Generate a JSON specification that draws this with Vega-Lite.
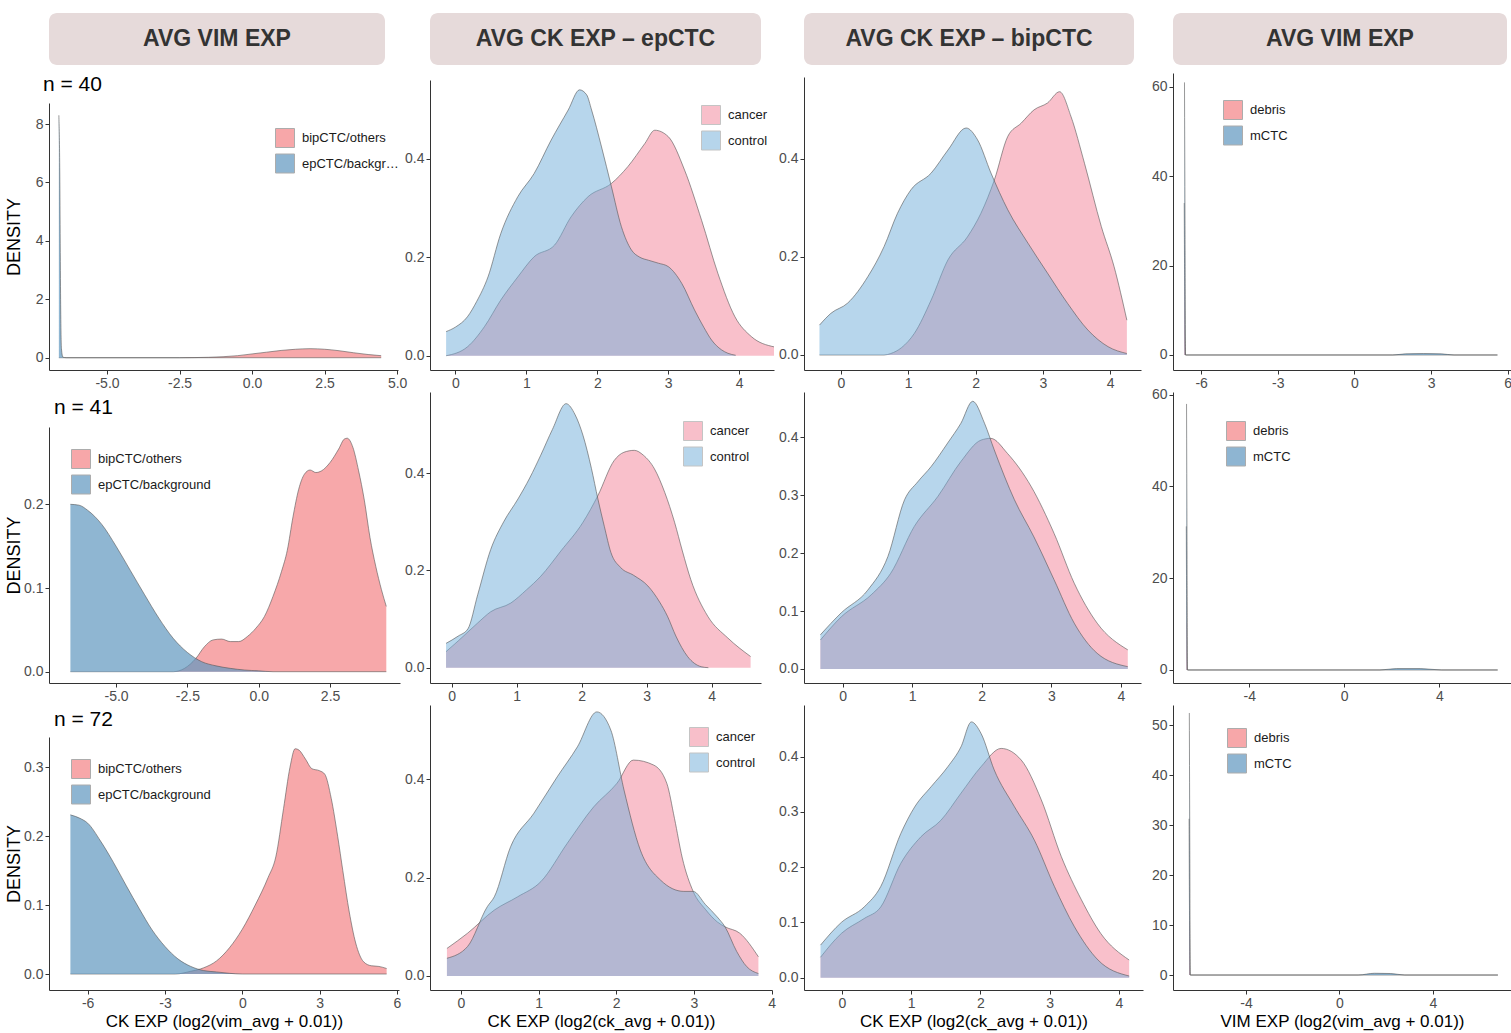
{
"$schema": "https://vega.github.io/schema/vega-lite/v6.json",
"background": "white",
"padding": {"left": 5, "top": 13, "right": 0, "bottom": 6},
"columns": 4,
"spacing": {"row": 22, "column": 30},
"bounds": "flush",
"align": "each",
"resolve": {"scale": {"x": "independent", "y": "independent", "color": "independent"}, "legend": {"color": "independent"}},
"config": {
 "view": {"stroke": null},
 "text": {"font": "Liberation Sans"},
 "area": {"interpolate": "monotone"},
 "line": {"interpolate": "monotone"},
 "title": {"font": "Liberation Sans", "fontSize": 21, "fontWeight": "normal", "color": "#000000", "anchor": "start", "frame": "group"},
 "axis": {"grid": false, "domainColor": "#333333", "domainWidth": 1, "tickColor": "#333333", "tickSize": 4, "labelColor": "#4d4d4d", "labelFontSize": 14, "labelFont": "Liberation Sans", "labelPadding": 2, "labelFlush": false, "labelOverlap": false, "labelBound": false, "titleFont": "Liberation Sans", "titleFontSize": 17, "titleFontWeight": "normal", "titleColor": "#000000", "titlePadding": 3},
 "legend": {"labelFont": "Liberation Sans", "labelFontSize": 13, "labelColor": "#1a1a1a", "symbolType": "square", "symbolSize": 361, "rowPadding": 1.5, "labelOffset": 7, "padding": 0, "symbolStrokeWidth": 1, "symbolStrokeColor": "#8a8a8a"}
},
"datasets": {
 "p11": [
  {"g":"epCTC/background","x":-6.66,"y":8.3},{"g":"epCTC/background","x":-6.63,"y":6.5},{"g":"epCTC/background","x":-6.6,"y":2.0},{"g":"epCTC/background","x":-6.57,"y":0.3},{"g":"epCTC/background","x":-6.52,"y":0.02},{"g":"epCTC/background","x":-6.4,"y":0},{"g":"epCTC/background","x":4.45,"y":0},
  {"g":"bipCTC/others","x":-6.66,"y":0},{"g":"bipCTC/others","x":-2.5,"y":0},{"g":"bipCTC/others","x":-2.0,"y":0.005},{"g":"bipCTC/others","x":-1.5,"y":0.015},{"g":"bipCTC/others","x":-1.0,"y":0.035},{"g":"bipCTC/others","x":-0.5,"y":0.07},{"g":"bipCTC/others","x":0,"y":0.13},{"g":"bipCTC/others","x":0.5,"y":0.19},{"g":"bipCTC/others","x":1.0,"y":0.25},{"g":"bipCTC/others","x":1.5,"y":0.29},{"g":"bipCTC/others","x":2.0,"y":0.31},{"g":"bipCTC/others","x":2.5,"y":0.29},{"g":"bipCTC/others","x":3.0,"y":0.24},{"g":"bipCTC/others","x":3.5,"y":0.17},{"g":"bipCTC/others","x":4.0,"y":0.11},{"g":"bipCTC/others","x":4.45,"y":0.07}
 ],
 "p21": [
  {"g":"epCTC/background","x":-6.6,"y":0.2},{"g":"epCTC/background","x":-6.3,"y":0.199},{"g":"epCTC/background","x":-6.0,"y":0.193},{"g":"epCTC/background","x":-5.5,"y":0.176},{"g":"epCTC/background","x":-5.0,"y":0.15},{"g":"epCTC/background","x":-4.5,"y":0.121},{"g":"epCTC/background","x":-4.0,"y":0.092},{"g":"epCTC/background","x":-3.5,"y":0.064},{"g":"epCTC/background","x":-3.0,"y":0.04},{"g":"epCTC/background","x":-2.5,"y":0.023},{"g":"epCTC/background","x":-2.0,"y":0.012},{"g":"epCTC/background","x":-1.5,"y":0.007},{"g":"epCTC/background","x":-1.0,"y":0.004},{"g":"epCTC/background","x":-0.5,"y":0.002},{"g":"epCTC/background","x":0,"y":0.001},{"g":"epCTC/background","x":0.5,"y":0},{"g":"epCTC/background","x":4.47,"y":0},
  {"g":"bipCTC/others","x":-6.6,"y":0},{"g":"bipCTC/others","x":-3.0,"y":0},{"g":"bipCTC/others","x":-2.6,"y":0.004},{"g":"bipCTC/others","x":-2.2,"y":0.016},{"g":"bipCTC/others","x":-1.9,"y":0.03},{"g":"bipCTC/others","x":-1.6,"y":0.038},{"g":"bipCTC/others","x":-1.3,"y":0.039},{"g":"bipCTC/others","x":-1.0,"y":0.036},{"g":"bipCTC/others","x":-0.7,"y":0.036},{"g":"bipCTC/others","x":-0.4,"y":0.042},{"g":"bipCTC/others","x":-0.1,"y":0.052},{"g":"bipCTC/others","x":0.2,"y":0.066},{"g":"bipCTC/others","x":0.5,"y":0.09},{"g":"bipCTC/others","x":0.8,"y":0.12},{"g":"bipCTC/others","x":1.0,"y":0.145},{"g":"bipCTC/others","x":1.2,"y":0.185},{"g":"bipCTC/others","x":1.4,"y":0.218},{"g":"bipCTC/others","x":1.6,"y":0.236},{"g":"bipCTC/others","x":1.8,"y":0.241},{"g":"bipCTC/others","x":2.0,"y":0.238},{"g":"bipCTC/others","x":2.2,"y":0.24},{"g":"bipCTC/others","x":2.5,"y":0.25},{"g":"bipCTC/others","x":2.8,"y":0.266},{"g":"bipCTC/others","x":3.0,"y":0.278},{"g":"bipCTC/others","x":3.1,"y":0.279},{"g":"bipCTC/others","x":3.3,"y":0.268},{"g":"bipCTC/others","x":3.5,"y":0.24},{"g":"bipCTC/others","x":3.7,"y":0.205},{"g":"bipCTC/others","x":3.9,"y":0.16},{"g":"bipCTC/others","x":4.1,"y":0.126},{"g":"bipCTC/others","x":4.3,"y":0.098},{"g":"bipCTC/others","x":4.47,"y":0.078}
 ],
 "p31": [
  {"g":"epCTC/background","x":-6.67,"y":0.231},{"g":"epCTC/background","x":-6.3,"y":0.226},{"g":"epCTC/background","x":-6.0,"y":0.219},{"g":"epCTC/background","x":-5.5,"y":0.193},{"g":"epCTC/background","x":-5.0,"y":0.162},{"g":"epCTC/background","x":-4.5,"y":0.128},{"g":"epCTC/background","x":-4.0,"y":0.095},{"g":"epCTC/background","x":-3.5,"y":0.064},{"g":"epCTC/background","x":-3.0,"y":0.04},{"g":"epCTC/background","x":-2.5,"y":0.022},{"g":"epCTC/background","x":-2.0,"y":0.011},{"g":"epCTC/background","x":-1.5,"y":0.005},{"g":"epCTC/background","x":-1.0,"y":0.003},{"g":"epCTC/background","x":-0.5,"y":0.001},{"g":"epCTC/background","x":0,"y":0},{"g":"epCTC/background","x":5.6,"y":0},
  {"g":"bipCTC/others","x":-6.67,"y":0},{"g":"bipCTC/others","x":-2.6,"y":0},{"g":"bipCTC/others","x":-2.0,"y":0.004},{"g":"bipCTC/others","x":-1.5,"y":0.009},{"g":"bipCTC/others","x":-1.0,"y":0.019},{"g":"bipCTC/others","x":-0.5,"y":0.038},{"g":"bipCTC/others","x":0,"y":0.065},{"g":"bipCTC/others","x":0.5,"y":0.1},{"g":"bipCTC/others","x":1.0,"y":0.14},{"g":"bipCTC/others","x":1.3,"y":0.17},{"g":"bipCTC/others","x":1.6,"y":0.24},{"g":"bipCTC/others","x":1.85,"y":0.3},{"g":"bipCTC/others","x":2.05,"y":0.327},{"g":"bipCTC/others","x":2.2,"y":0.325},{"g":"bipCTC/others","x":2.45,"y":0.312},{"g":"bipCTC/others","x":2.7,"y":0.298},{"g":"bipCTC/others","x":3.0,"y":0.295},{"g":"bipCTC/others","x":3.2,"y":0.29},{"g":"bipCTC/others","x":3.45,"y":0.255},{"g":"bipCTC/others","x":3.7,"y":0.2},{"g":"bipCTC/others","x":3.9,"y":0.15},{"g":"bipCTC/others","x":4.15,"y":0.09},{"g":"bipCTC/others","x":4.4,"y":0.045},{"g":"bipCTC/others","x":4.7,"y":0.018},{"g":"bipCTC/others","x":5.0,"y":0.012},{"g":"bipCTC/others","x":5.3,"y":0.011},{"g":"bipCTC/others","x":5.6,"y":0.008}
 ],
 "p12": [
  {"g":"control","x":-0.13,"y":0.049},{"g":"control","x":0.0,"y":0.058},{"g":"control","x":0.17,"y":0.079},{"g":"control","x":0.3,"y":0.11},{"g":"control","x":0.46,"y":0.16},{"g":"control","x":0.64,"y":0.248},{"g":"control","x":0.88,"y":0.323},{"g":"control","x":1.11,"y":0.37},{"g":"control","x":1.35,"y":0.438},{"g":"control","x":1.59,"y":0.499},{"g":"control","x":1.75,"y":0.54},{"g":"control","x":1.85,"y":0.53},{"g":"control","x":1.92,"y":0.499},{"g":"control","x":2.06,"y":0.424},{"g":"control","x":2.2,"y":0.343},{"g":"control","x":2.34,"y":0.262},{"g":"control","x":2.48,"y":0.215},{"g":"control","x":2.6,"y":0.2},{"g":"control","x":2.72,"y":0.194},{"g":"control","x":2.86,"y":0.188},{"g":"control","x":3.0,"y":0.181},{"g":"control","x":3.19,"y":0.147},{"g":"control","x":3.37,"y":0.093},{"g":"control","x":3.5,"y":0.058},{"g":"control","x":3.61,"y":0.032},{"g":"control","x":3.75,"y":0.012},{"g":"control","x":3.84,"y":0.005},{"g":"control","x":3.95,"y":0.001},
  {"g":"cancer","x":-0.13,"y":0},{"g":"cancer","x":0.17,"y":0.018},{"g":"cancer","x":0.41,"y":0.059},{"g":"cancer","x":0.64,"y":0.113},{"g":"cancer","x":0.88,"y":0.16},{"g":"cancer","x":1.11,"y":0.201},{"g":"cancer","x":1.4,"y":0.225},{"g":"cancer","x":1.63,"y":0.282},{"g":"cancer","x":1.87,"y":0.323},{"g":"cancer","x":2.2,"y":0.35},{"g":"cancer","x":2.43,"y":0.384},{"g":"cancer","x":2.67,"y":0.431},{"g":"cancer","x":2.81,"y":0.458},{"g":"cancer","x":3.0,"y":0.445},{"g":"cancer","x":3.23,"y":0.377},{"g":"cancer","x":3.47,"y":0.275},{"g":"cancer","x":3.7,"y":0.167},{"g":"cancer","x":3.94,"y":0.079},{"g":"cancer","x":4.17,"y":0.039},{"g":"cancer","x":4.49,"y":0.018}
 ],
 "p13": [
  {"g":"control","x":-0.32,"y":0.061},{"g":"control","x":-0.15,"y":0.085},{"g":"control","x":0.1,"y":0.106},{"g":"control","x":0.4,"y":0.16},{"g":"control","x":0.64,"y":0.221},{"g":"control","x":0.84,"y":0.289},{"g":"control","x":1.04,"y":0.337},{"g":"control","x":1.34,"y":0.371},{"g":"control","x":1.59,"y":0.418},{"g":"control","x":1.86,"y":0.463},{"g":"control","x":2.03,"y":0.439},{"g":"control","x":2.23,"y":0.371},{"g":"control","x":2.48,"y":0.296},{"g":"control","x":2.78,"y":0.228},{"g":"control","x":3.07,"y":0.167},{"g":"control","x":3.37,"y":0.105},{"g":"control","x":3.67,"y":0.051},{"g":"control","x":3.97,"y":0.017},{"g":"control","x":4.25,"y":0.003},
  {"g":"cancer","x":-0.32,"y":0},{"g":"cancer","x":0.64,"y":0},{"g":"cancer","x":0.74,"y":0.003},{"g":"cancer","x":0.9,"y":0.015},{"g":"cancer","x":1.09,"y":0.044},{"g":"cancer","x":1.34,"y":0.112},{"g":"cancer","x":1.59,"y":0.194},{"g":"cancer","x":1.88,"y":0.241},{"g":"cancer","x":2.08,"y":0.289},{"g":"cancer","x":2.28,"y":0.357},{"g":"cancer","x":2.48,"y":0.446},{"g":"cancer","x":2.68,"y":0.473},{"g":"cancer","x":2.87,"y":0.5},{"g":"cancer","x":3.07,"y":0.514},{"g":"cancer","x":3.25,"y":0.537},{"g":"cancer","x":3.42,"y":0.486},{"g":"cancer","x":3.62,"y":0.391},{"g":"cancer","x":3.87,"y":0.262},{"g":"cancer","x":4.06,"y":0.18},{"g":"cancer","x":4.25,"y":0.071}
 ],
 "p22": [
  {"g":"control","x":-0.087,"y":0.05},{"g":"control","x":0.1,"y":0.065},{"g":"control","x":0.25,"y":0.08},{"g":"control","x":0.4,"y":0.15},{"g":"control","x":0.6,"y":0.243},{"g":"control","x":0.8,"y":0.3},{"g":"control","x":1.02,"y":0.347},{"g":"control","x":1.2,"y":0.39},{"g":"control","x":1.37,"y":0.437},{"g":"control","x":1.55,"y":0.49},{"g":"control","x":1.76,"y":0.543},{"g":"control","x":1.9,"y":0.52},{"g":"control","x":2.02,"y":0.478},{"g":"control","x":2.15,"y":0.41},{"g":"control","x":2.25,"y":0.347},{"g":"control","x":2.35,"y":0.29},{"g":"control","x":2.45,"y":0.237},{"g":"control","x":2.6,"y":0.206},{"g":"control","x":2.8,"y":0.19},{"g":"control","x":3.02,"y":0.168},{"g":"control","x":3.2,"y":0.135},{"g":"control","x":3.32,"y":0.106},{"g":"control","x":3.45,"y":0.065},{"g":"control","x":3.63,"y":0.023},{"g":"control","x":3.84,"y":0.002},{"g":"control","x":3.95,"y":0},
  {"g":"cancer","x":-0.087,"y":0.033},{"g":"cancer","x":0.1,"y":0.055},{"g":"cancer","x":0.4,"y":0.092},{"g":"cancer","x":0.6,"y":0.115},{"g":"cancer","x":0.91,"y":0.133},{"g":"cancer","x":1.15,"y":0.16},{"g":"cancer","x":1.37,"y":0.188},{"g":"cancer","x":1.68,"y":0.24},{"g":"cancer","x":2.02,"y":0.299},{"g":"cancer","x":2.25,"y":0.354},{"g":"cancer","x":2.5,"y":0.426},{"g":"cancer","x":2.65,"y":0.443},{"g":"cancer","x":2.81,"y":0.447},{"g":"cancer","x":2.95,"y":0.437},{"g":"cancer","x":3.12,"y":0.409},{"g":"cancer","x":3.28,"y":0.36},{"g":"cancer","x":3.43,"y":0.299},{"g":"cancer","x":3.55,"y":0.24},{"g":"cancer","x":3.68,"y":0.181},{"g":"cancer","x":3.94,"y":0.106},{"g":"cancer","x":4.25,"y":0.061},{"g":"cancer","x":4.6,"y":0.023}
 ],
 "p23": [
  {"g":"control","x":-0.32,"y":0.059},{"g":"control","x":-0.02,"y":0.097},{"g":"control","x":0.36,"y":0.136},{"g":"control","x":0.65,"y":0.194},{"g":"control","x":0.89,"y":0.292},{"g":"control","x":1.08,"y":0.323},{"g":"control","x":1.27,"y":0.349},{"g":"control","x":1.51,"y":0.39},{"g":"control","x":1.7,"y":0.424},{"g":"control","x":1.87,"y":0.462},{"g":"control","x":2.04,"y":0.424},{"g":"control","x":2.18,"y":0.378},{"g":"control","x":2.47,"y":0.292},{"g":"control","x":2.75,"y":0.228},{"g":"control","x":3.04,"y":0.154},{"g":"control","x":3.33,"y":0.079},{"g":"control","x":3.66,"y":0.027},{"g":"control","x":4.1,"y":0.004},
  {"g":"cancer","x":-0.32,"y":0.05},{"g":"cancer","x":-0.02,"y":0.09},{"g":"cancer","x":0.41,"y":0.128},{"g":"cancer","x":0.69,"y":0.165},{"g":"cancer","x":1.03,"y":0.246},{"g":"cancer","x":1.37,"y":0.298},{"g":"cancer","x":1.7,"y":0.358},{"g":"cancer","x":1.99,"y":0.395},{"g":"cancer","x":2.13,"y":0.398},{"g":"cancer","x":2.37,"y":0.372},{"g":"cancer","x":2.71,"y":0.315},{"g":"cancer","x":3.04,"y":0.234},{"g":"cancer","x":3.33,"y":0.148},{"g":"cancer","x":3.66,"y":0.079},{"g":"cancer","x":4.1,"y":0.033}
 ],
 "p32": [
  {"g":"control","x":-0.18,"y":0.036},{"g":"control","x":0.086,"y":0.06},{"g":"control","x":0.34,"y":0.141},{"g":"control","x":0.43,"y":0.161},{"g":"control","x":0.64,"y":0.263},{"g":"control","x":0.94,"y":0.331},{"g":"control","x":1.24,"y":0.405},{"g":"control","x":1.5,"y":0.466},{"g":"control","x":1.75,"y":0.537},{"g":"control","x":1.93,"y":0.5},{"g":"control","x":2.1,"y":0.378},{"g":"control","x":2.31,"y":0.256},{"g":"control","x":2.57,"y":0.195},{"g":"control","x":2.87,"y":0.172},{"g":"control","x":2.99,"y":0.172},{"g":"control","x":3.15,"y":0.145},{"g":"control","x":3.3,"y":0.12},{"g":"control","x":3.4,"y":0.1},{"g":"control","x":3.55,"y":0.05},{"g":"control","x":3.68,"y":0.019},{"g":"control","x":3.83,"y":0.005},
  {"g":"cancer","x":-0.18,"y":0.056},{"g":"cancer","x":0.086,"y":0.087},{"g":"cancer","x":0.43,"y":0.134},{"g":"cancer","x":0.73,"y":0.161},{"g":"cancer","x":1.03,"y":0.192},{"g":"cancer","x":1.37,"y":0.27},{"g":"cancer","x":1.71,"y":0.344},{"g":"cancer","x":2.01,"y":0.392},{"g":"cancer","x":2.22,"y":0.439},{"g":"cancer","x":2.48,"y":0.429},{"g":"cancer","x":2.65,"y":0.392},{"g":"cancer","x":2.75,"y":0.32},{"g":"cancer","x":2.85,"y":0.24},{"g":"cancer","x":2.99,"y":0.172},{"g":"cancer","x":3.15,"y":0.135},{"g":"cancer","x":3.3,"y":0.11},{"g":"cancer","x":3.4,"y":0.1},{"g":"cancer","x":3.59,"y":0.087},{"g":"cancer","x":3.83,"y":0.039}
 ],
 "p33": [
  {"g":"control","x":-0.31,"y":0.059},{"g":"control","x":-0.01,"y":0.1},{"g":"control","x":0.32,"y":0.128},{"g":"control","x":0.56,"y":0.165},{"g":"control","x":0.85,"y":0.261},{"g":"control","x":1.05,"y":0.309},{"g":"control","x":1.29,"y":0.346},{"g":"control","x":1.53,"y":0.382},{"g":"control","x":1.72,"y":0.418},{"g":"control","x":1.87,"y":0.463},{"g":"control","x":2.01,"y":0.442},{"g":"control","x":2.2,"y":0.376},{"g":"control","x":2.49,"y":0.31},{"g":"control","x":2.78,"y":0.249},{"g":"control","x":3.07,"y":0.165},{"g":"control","x":3.36,"y":0.092},{"g":"control","x":3.7,"y":0.032},{"g":"control","x":4.15,"y":0.003},
  {"g":"cancer","x":-0.31,"y":0.037},{"g":"cancer","x":-0.01,"y":0.08},{"g":"cancer","x":0.32,"y":0.107},{"g":"cancer","x":0.56,"y":0.128},{"g":"cancer","x":0.85,"y":0.207},{"g":"cancer","x":1.14,"y":0.255},{"g":"cancer","x":1.43,"y":0.285},{"g":"cancer","x":1.72,"y":0.334},{"g":"cancer","x":2.01,"y":0.382},{"g":"cancer","x":2.3,"y":0.415},{"g":"cancer","x":2.59,"y":0.394},{"g":"cancer","x":2.88,"y":0.322},{"g":"cancer","x":3.17,"y":0.219},{"g":"cancer","x":3.46,"y":0.141},{"g":"cancer","x":3.74,"y":0.08},{"g":"cancer","x":4.15,"y":0.032}
 ],
 "p14": [
  {"g":"mCTC","x":-6.65,"y":61},{"g":"mCTC","x":-6.63,"y":30},{"g":"mCTC","x":-6.61,"y":0},{"g":"mCTC","x":1.5,"y":0},{"g":"mCTC","x":2.0,"y":0.25},{"g":"mCTC","x":2.7,"y":0.32},{"g":"mCTC","x":3.4,"y":0.25},{"g":"mCTC","x":3.9,"y":0},{"g":"mCTC","x":5.6,"y":0},
  {"g":"debris","x":-6.66,"y":34},{"g":"debris","x":-6.64,"y":12},{"g":"debris","x":-6.61,"y":0},{"g":"debris","x":5.6,"y":0}
 ],
 "p24": [
  {"g":"mCTC","x":-6.64,"y":58},{"g":"mCTC","x":-6.62,"y":28},{"g":"mCTC","x":-6.6,"y":0},{"g":"mCTC","x":1.5,"y":0},{"g":"mCTC","x":2.2,"y":0.3},{"g":"mCTC","x":3.2,"y":0.3},{"g":"mCTC","x":4.1,"y":0},{"g":"mCTC","x":6.46,"y":0},
  {"g":"debris","x":-6.65,"y":31.3},{"g":"debris","x":-6.63,"y":10},{"g":"debris","x":-6.6,"y":0},{"g":"debris","x":6.46,"y":0}
 ],
 "p34": [
  {"g":"mCTC","x":-6.43,"y":52.5},{"g":"mCTC","x":-6.41,"y":25},{"g":"mCTC","x":-6.39,"y":0},{"g":"mCTC","x":0.8,"y":0},{"g":"mCTC","x":1.5,"y":0.35},{"g":"mCTC","x":2.2,"y":0.3},{"g":"mCTC","x":2.8,"y":0},{"g":"mCTC","x":6.79,"y":0},
  {"g":"debris","x":-6.44,"y":31.3},{"g":"debris","x":-6.42,"y":10},{"g":"debris","x":-6.39,"y":0},{"g":"debris","x":6.79,"y":0}
 ]
},
"concat": [
 {"width": 336, "height": 52, "view": {"fill": "#E6DADA", "stroke": null, "cornerRadius": 8}, "data": {"values": [{"t": "AVG VIM EXP"}]}, "mark": {"type": "text", "fontSize": 23, "fontWeight": "bold", "color": "#333333"}, "encoding": {"text": {"field": "t"}}},
 {"width": 331, "height": 52, "view": {"fill": "#E6DADA", "stroke": null, "cornerRadius": 8}, "data": {"values": [{"t": "AVG CK EXP – epCTC"}]}, "mark": {"type": "text", "fontSize": 23, "fontWeight": "bold", "color": "#333333"}, "encoding": {"text": {"field": "t"}}},
 {"width": 330, "height": 52, "view": {"fill": "#E6DADA", "stroke": null, "cornerRadius": 8}, "data": {"values": [{"t": "AVG CK EXP – bipCTC"}]}, "mark": {"type": "text", "fontSize": 23, "fontWeight": "bold", "color": "#333333"}, "encoding": {"text": {"field": "t"}}},
 {"width": 334, "height": 52, "view": {"fill": "#E6DADA", "stroke": null, "cornerRadius": 8}, "data": {"values": [{"t": "AVG VIM EXP"}]}, "mark": {"type": "text", "fontSize": 23, "fontWeight": "bold", "color": "#333333"}, "encoding": {"text": {"field": "t"}}},

 {"width": 349, "height": 283, "data": {"name": "p11"},
  "title": {"text": "n = 40", "offset": -19, "dx": -6, "baseline": "middle"},
  "encoding": {"x": {"field": "x", "type": "quantitative", "scale": {"domain": [-7.0, 5.03], "nice": false, "zero": false}, "axis": {"values": [-5, -2.5, 0, 2.5, 5], "labelExpr": "replace(format(datum.value, '.1f'), '\u2212', '-')", "title": null}}},
  "layer": [
   {"transform": [{"filter": "datum.g == 'bipCTC/others'"}], "mark": {"type": "area", "opacity": 0.7}, "encoding": {"y": {"field": "y", "type": "quantitative", "stack": null, "scale": {"domain": [-0.42, 8.72], "range": [283, 16], "nice": false, "zero": false}, "axis": {"values": [0, 2, 4, 6, 8], "format": "d", "title": "DENSITY", "minExtent": 24, "maxExtent": 24, "titlePadding": 2, "titleFontSize": 18}}, "color": {"field": "g", "type": "nominal", "scale": {"domain": ["bipCTC/others", "epCTC/background"], "range": ["#F48386", "#5F97BF"]}, "legend": {"title": null, "orient": "none", "legendX": 226, "legendY": 41, "labelLimit": 102, "encode": {"symbols": {"update": {"stroke": {"value": "#8a8a8a"}, "strokeWidth": {"value": 1}}}}}}}},
   {"transform": [{"filter": "datum.g == 'bipCTC/others'"}], "mark": {"type": "line", "color": "#555555", "strokeWidth": 0.7, "opacity": 0.85}, "encoding": {"y": {"field": "y", "type": "quantitative"}}},
   {"transform": [{"filter": "datum.g == 'epCTC/background'"}], "mark": {"type": "area", "opacity": 0.7}, "encoding": {"y": {"field": "y", "type": "quantitative", "stack": null}, "color": {"field": "g", "type": "nominal"}}},
   {"transform": [{"filter": "datum.g == 'epCTC/background'"}], "mark": {"type": "line", "color": "#555555", "strokeWidth": 0.7, "opacity": 0.85}, "encoding": {"y": {"field": "y", "type": "quantitative"}}}
  ]},
 {"width": 344, "height": 283, "data": {"name": "p12"},
  "encoding": {"x": {"field": "x", "type": "quantitative", "scale": {"domain": [-0.357, 4.49], "nice": false, "zero": false}, "axis": {"values": [0, 1, 2, 3, 4], "format": "d", "title": null}}},
  "layer": [
   {"transform": [{"filter": "datum.g == 'cancer'"}], "mark": {"type": "area", "opacity": 0.5}, "encoding": {"y": {"field": "y", "type": "quantitative", "stack": null, "scale": {"domain": [-0.029, 0.56], "range": [283, -7], "nice": false, "zero": false}, "axis": {"values": [0, 0.2, 0.4], "format": ".1f", "title": null}}, "color": {"field": "g", "type": "nominal", "scale": {"domain": ["cancer", "control"], "range": ["#F38197", "#6FADD9"]}, "legend": {"title": null, "orient": "none", "legendX": 271, "legendY": 18, "encode": {"symbols": {"update": {"stroke": {"value": "#8a8a8a"}, "strokeWidth": {"value": 1}}}}}}}},
   {"transform": [{"filter": "datum.g == 'cancer'"}], "mark": {"type": "line", "color": "#555555", "strokeWidth": 0.7, "opacity": 0.85}, "encoding": {"y": {"field": "y", "type": "quantitative"}}},
   {"transform": [{"filter": "datum.g == 'control'"}], "mark": {"type": "area", "opacity": 0.5}, "encoding": {"y": {"field": "y", "type": "quantitative", "stack": null}, "color": {"field": "g", "type": "nominal"}}},
   {"transform": [{"filter": "datum.g == 'control'"}], "mark": {"type": "line", "color": "#555555", "strokeWidth": 0.7, "opacity": 0.85}, "encoding": {"y": {"field": "y", "type": "quantitative"}}},
   {"data": {"values": [{}]}, "mark": {"type": "rule", "color": "#333333", "strokeDash": [2, 2], "strokeWidth": 1}, "encoding": {"x": {"datum": 2.08}}},
   {"data": {"values": [{"label": "pval < 2.2e-16"}]}, "mark": {"type": "text", "align": "right", "fontSize": 13, "color": "#000000"}, "encoding": {"x": {"datum": 4.42}, "y": {"datum": 0.55}, "text": {"field": "label"}}}
  ]},
 {"width": 337, "height": 283, "data": {"name": "p13"},
  "encoding": {"x": {"field": "x", "type": "quantitative", "scale": {"domain": [-0.55, 4.46], "nice": false, "zero": false}, "axis": {"values": [0, 1, 2, 3, 4], "format": "d", "title": null}}},
  "layer": [
   {"transform": [{"filter": "datum.g == 'cancer'"}], "mark": {"type": "area", "opacity": 0.5}, "encoding": {"y": {"field": "y", "type": "quantitative", "stack": null, "scale": {"domain": [-0.0306, 0.567], "range": [283, -10], "nice": false, "zero": false}, "axis": {"values": [0, 0.2, 0.4], "format": ".1f", "title": null}}, "color": {"field": "g", "type": "nominal", "scale": {"domain": ["cancer", "control"], "range": ["#F38197", "#6FADD9"]}, "legend": null}}},
   {"transform": [{"filter": "datum.g == 'cancer'"}], "mark": {"type": "line", "color": "#555555", "strokeWidth": 0.7, "opacity": 0.85}, "encoding": {"y": {"field": "y", "type": "quantitative"}}},
   {"transform": [{"filter": "datum.g == 'control'"}], "mark": {"type": "area", "opacity": 0.5}, "encoding": {"y": {"field": "y", "type": "quantitative", "stack": null}, "color": {"field": "g", "type": "nominal", "legend": null}}},
   {"transform": [{"filter": "datum.g == 'control'"}], "mark": {"type": "line", "color": "#555555", "strokeWidth": 0.7, "opacity": 0.85}, "encoding": {"y": {"field": "y", "type": "quantitative"}}},
   {"data": {"values": [{}]}, "mark": {"type": "rule", "color": "#333333", "strokeDash": [2, 2], "strokeWidth": 1}, "encoding": {"x": {"datum": 2.46}}},
   {"data": {"values": [{"label": "pval < 2.2e-16"}]}, "mark": {"type": "text", "align": "right", "fontSize": 13, "color": "#000000"}, "encoding": {"x": {"datum": 4.39}, "y": {"datum": 0.551}, "text": {"field": "label"}}}
  ]},
 {"width": 338, "height": 283, "data": {"name": "p14"},
  "encoding": {"x": {"field": "x", "type": "quantitative", "scale": {"domain": [-7.1, 6.13], "nice": false, "zero": false}, "axis": {"values": [-6, -3, 0, 3, 6], "labelExpr": "replace(format(datum.value, 'd'), '\u2212', '-')", "title": null}}},
  "layer": [
   {"transform": [{"filter": "datum.g == 'debris'"}], "mark": {"type": "area", "opacity": 0.7}, "encoding": {"y": {"field": "y", "type": "quantitative", "stack": null, "scale": {"domain": [-3.36, 63.1], "range": [283, -14], "nice": false, "zero": false}, "axis": {"values": [0, 20, 40, 60], "format": "d", "title": null}}, "color": {"field": "g", "type": "nominal", "scale": {"domain": ["debris", "mCTC"], "range": ["#F48386", "#5F97BF"]}, "legend": {"title": null, "orient": "none", "legendX": 50, "legendY": 13, "encode": {"symbols": {"update": {"stroke": {"value": "#8a8a8a"}, "strokeWidth": {"value": 1}}}}}}}},
   {"transform": [{"filter": "datum.g == 'debris'"}], "mark": {"type": "line", "color": "#555555", "strokeWidth": 0.7, "opacity": 0.85}, "encoding": {"y": {"field": "y", "type": "quantitative"}}},
   {"transform": [{"filter": "datum.g == 'mCTC'"}], "mark": {"type": "area", "opacity": 0.7}, "encoding": {"y": {"field": "y", "type": "quantitative", "stack": null}, "color": {"field": "g", "type": "nominal"}}},
   {"transform": [{"filter": "datum.g == 'mCTC'"}], "mark": {"type": "line", "color": "#555555", "strokeWidth": 0.7, "opacity": 0.85}, "encoding": {"y": {"field": "y", "type": "quantitative"}}}
  ]},

 {"width": 351, "height": 291, "data": {"name": "p21"},
  "title": {"text": "n = 41", "offset": -37, "dx": 5, "baseline": "middle"},
  "encoding": {"x": {"field": "x", "type": "quantitative", "scale": {"domain": [-7.35, 4.95], "nice": false, "zero": false}, "axis": {"values": [-5, -2.5, 0, 2.5], "labelExpr": "replace(format(datum.value, '.1f'), '\u2212', '-')", "title": null}}},
  "layer": [
   {"transform": [{"filter": "datum.g == 'bipCTC/others'"}], "mark": {"type": "area", "opacity": 0.7}, "encoding": {"y": {"field": "y", "type": "quantitative", "stack": null, "scale": {"domain": [-0.0135, 0.2924], "range": [291, 35], "nice": false, "zero": false}, "axis": {"values": [0, 0.1, 0.2], "format": ".1f", "title": "DENSITY", "minExtent": 24, "maxExtent": 24, "titlePadding": 2, "titleFontSize": 18}}, "color": {"field": "g", "type": "nominal", "scale": {"domain": ["bipCTC/others", "epCTC/background"], "range": ["#F48386", "#5F97BF"]}, "legend": {"title": null, "orient": "none", "legendX": 22, "legendY": 57, "encode": {"symbols": {"update": {"stroke": {"value": "#8a8a8a"}, "strokeWidth": {"value": 1}}}}}}}},
   {"transform": [{"filter": "datum.g == 'bipCTC/others'"}], "mark": {"type": "line", "color": "#555555", "strokeWidth": 0.7, "opacity": 0.85}, "encoding": {"y": {"field": "y", "type": "quantitative"}}},
   {"transform": [{"filter": "datum.g == 'epCTC/background'"}], "mark": {"type": "area", "opacity": 0.7}, "encoding": {"y": {"field": "y", "type": "quantitative", "stack": null}, "color": {"field": "g", "type": "nominal"}}},
   {"transform": [{"filter": "datum.g == 'epCTC/background'"}], "mark": {"type": "line", "color": "#555555", "strokeWidth": 0.7, "opacity": 0.85}, "encoding": {"y": {"field": "y", "type": "quantitative"}}}
  ]},
 {"width": 331, "height": 291, "data": {"name": "p22"},
  "encoding": {"x": {"field": "x", "type": "quantitative", "scale": {"domain": [-0.334, 4.76], "nice": false, "zero": false}, "axis": {"values": [0, 1, 2, 3, 4], "format": "d", "title": null}}},
  "layer": [
   {"transform": [{"filter": "datum.g == 'cancer'"}], "mark": {"type": "area", "opacity": 0.5}, "encoding": {"y": {"field": "y", "type": "quantitative", "stack": null, "scale": {"domain": [-0.0315, 0.567], "nice": false, "zero": false}, "axis": {"values": [0, 0.2, 0.4], "format": ".1f", "title": null}}, "color": {"field": "g", "type": "nominal", "scale": {"domain": ["cancer", "control"], "range": ["#F38197", "#6FADD9"]}, "legend": {"title": null, "orient": "none", "legendX": 253, "legendY": 29, "encode": {"symbols": {"update": {"stroke": {"value": "#8a8a8a"}, "strokeWidth": {"value": 1}}}}}}}},
   {"transform": [{"filter": "datum.g == 'cancer'"}], "mark": {"type": "line", "color": "#555555", "strokeWidth": 0.7, "opacity": 0.85}, "encoding": {"y": {"field": "y", "type": "quantitative"}}},
   {"transform": [{"filter": "datum.g == 'control'"}], "mark": {"type": "area", "opacity": 0.5}, "encoding": {"y": {"field": "y", "type": "quantitative", "stack": null}, "color": {"field": "g", "type": "nominal"}}},
   {"transform": [{"filter": "datum.g == 'control'"}], "mark": {"type": "line", "color": "#555555", "strokeWidth": 0.7, "opacity": 0.85}, "encoding": {"y": {"field": "y", "type": "quantitative"}}},
   {"data": {"values": [{}]}, "mark": {"type": "rule", "color": "#333333", "strokeDash": [2, 2], "strokeWidth": 1}, "encoding": {"x": {"datum": 2.03}}},
   {"data": {"values": [{"label": "pval < 4.136e-12"}]}, "mark": {"type": "text", "align": "right", "fontSize": 13, "color": "#000000"}, "encoding": {"x": {"datum": 5.04}, "y": {"datum": 0.54}, "text": {"field": "label"}}}
  ]},
 {"width": 337, "height": 291, "data": {"name": "p23"},
  "encoding": {"x": {"field": "x", "type": "quantitative", "scale": {"domain": [-0.556, 4.29], "nice": false, "zero": false}, "axis": {"values": [0, 1, 2, 3, 4], "format": "d", "title": null}}},
  "layer": [
   {"transform": [{"filter": "datum.g == 'cancer'"}], "mark": {"type": "area", "opacity": 0.5}, "encoding": {"y": {"field": "y", "type": "quantitative", "stack": null, "scale": {"domain": [-0.0242, 0.478], "nice": false, "zero": false}, "axis": {"values": [0, 0.1, 0.2, 0.3, 0.4], "format": ".1f", "title": null}}, "color": {"field": "g", "type": "nominal", "scale": {"domain": ["cancer", "control"], "range": ["#F38197", "#6FADD9"]}, "legend": null}}},
   {"transform": [{"filter": "datum.g == 'cancer'"}], "mark": {"type": "line", "color": "#555555", "strokeWidth": 0.7, "opacity": 0.85}, "encoding": {"y": {"field": "y", "type": "quantitative"}}},
   {"transform": [{"filter": "datum.g == 'control'"}], "mark": {"type": "area", "opacity": 0.5}, "encoding": {"y": {"field": "y", "type": "quantitative", "stack": null}, "color": {"field": "g", "type": "nominal", "legend": null}}},
   {"transform": [{"filter": "datum.g == 'control'"}], "mark": {"type": "line", "color": "#555555", "strokeWidth": 0.7, "opacity": 0.85}, "encoding": {"y": {"field": "y", "type": "quantitative"}}},
   {"data": {"values": [{}]}, "mark": {"type": "rule", "color": "#333333", "strokeDash": [2, 2], "strokeWidth": 1}, "encoding": {"x": {"datum": 1.51}}},
   {"data": {"values": [{"label": "pval = 0.00326"}]}, "mark": {"type": "text", "align": "right", "fontSize": 13, "color": "#000000"}, "encoding": {"x": {"datum": 4.36}, "y": {"datum": 0.425}, "text": {"field": "label"}}}
  ]},
 {"width": 338, "height": 291, "data": {"name": "p24"},
  "encoding": {"x": {"field": "x", "type": "quantitative", "scale": {"domain": [-7.21, 7.02], "nice": false, "zero": false}, "axis": {"values": [-4, 0, 4], "labelExpr": "replace(format(datum.value, 'd'), '\u2212', '-')", "title": null}}},
  "layer": [
   {"transform": [{"filter": "datum.g == 'debris'"}], "mark": {"type": "area", "opacity": 0.7}, "encoding": {"y": {"field": "y", "type": "quantitative", "stack": null, "scale": {"domain": [-2.84, 60.6], "nice": false, "zero": false}, "axis": {"values": [0, 20, 40, 60], "format": "d", "title": null}}, "color": {"field": "g", "type": "nominal", "scale": {"domain": ["debris", "mCTC"], "range": ["#F48386", "#5F97BF"]}, "legend": {"title": null, "orient": "none", "legendX": 53, "legendY": 29, "encode": {"symbols": {"update": {"stroke": {"value": "#8a8a8a"}, "strokeWidth": {"value": 1}}}}}}}},
   {"transform": [{"filter": "datum.g == 'debris'"}], "mark": {"type": "line", "color": "#555555", "strokeWidth": 0.7, "opacity": 0.85}, "encoding": {"y": {"field": "y", "type": "quantitative"}}},
   {"transform": [{"filter": "datum.g == 'mCTC'"}], "mark": {"type": "area", "opacity": 0.7}, "encoding": {"y": {"field": "y", "type": "quantitative", "stack": null}, "color": {"field": "g", "type": "nominal"}}},
   {"transform": [{"filter": "datum.g == 'mCTC'"}], "mark": {"type": "line", "color": "#555555", "strokeWidth": 0.7, "opacity": 0.85}, "encoding": {"y": {"field": "y", "type": "quantitative"}}}
  ]},

 {"width": 350, "height": 285, "data": {"name": "p31"},
  "title": {"text": "n = 72", "offset": -36, "dx": 5, "baseline": "middle"},
  "encoding": {"x": {"field": "x", "type": "quantitative", "scale": {"domain": [-7.5, 6.08], "nice": false, "zero": false}, "axis": {"values": [-6, -3, 0, 3, 6], "labelExpr": "replace(format(datum.value, 'd'), '\u2212', '-')", "title": "CK EXP (log2(vim_avg + 0.01))"}}},
  "layer": [
   {"transform": [{"filter": "datum.g == 'bipCTC/others'"}], "mark": {"type": "area", "opacity": 0.7}, "encoding": {"y": {"field": "y", "type": "quantitative", "stack": null, "scale": {"domain": [-0.0232, 0.344], "range": [285, 32], "nice": false, "zero": false}, "axis": {"values": [0, 0.1, 0.2, 0.3], "format": ".1f", "title": "DENSITY", "minExtent": 24, "maxExtent": 24, "titlePadding": 2, "titleFontSize": 18}}, "color": {"field": "g", "type": "nominal", "scale": {"domain": ["bipCTC/others", "epCTC/background"], "range": ["#F48386", "#5F97BF"]}, "legend": {"title": null, "orient": "none", "legendX": 22, "legendY": 54, "encode": {"symbols": {"update": {"stroke": {"value": "#8a8a8a"}, "strokeWidth": {"value": 1}}}}}}}},
   {"transform": [{"filter": "datum.g == 'bipCTC/others'"}], "mark": {"type": "line", "color": "#555555", "strokeWidth": 0.7, "opacity": 0.85}, "encoding": {"y": {"field": "y", "type": "quantitative"}}},
   {"transform": [{"filter": "datum.g == 'epCTC/background'"}], "mark": {"type": "area", "opacity": 0.7}, "encoding": {"y": {"field": "y", "type": "quantitative", "stack": null}, "color": {"field": "g", "type": "nominal"}}},
   {"transform": [{"filter": "datum.g == 'epCTC/background'"}], "mark": {"type": "line", "color": "#555555", "strokeWidth": 0.7, "opacity": 0.85}, "encoding": {"y": {"field": "y", "type": "quantitative"}}}
  ]},
 {"width": 342, "height": 285, "data": {"name": "p32"},
  "encoding": {"x": {"field": "x", "type": "quantitative", "scale": {"domain": [-0.398, 4.005], "nice": false, "zero": false}, "axis": {"values": [0, 1, 2, 3, 4], "format": "d", "title": "CK EXP (log2(ck_avg + 0.01))"}}},
  "layer": [
   {"transform": [{"filter": "datum.g == 'cancer'"}], "mark": {"type": "area", "opacity": 0.5}, "encoding": {"y": {"field": "y", "type": "quantitative", "stack": null, "scale": {"domain": [-0.0285, 0.551], "nice": false, "zero": false}, "axis": {"values": [0, 0.2, 0.4], "format": ".1f", "title": null}}, "color": {"field": "g", "type": "nominal", "scale": {"domain": ["cancer", "control"], "range": ["#F38197", "#6FADD9"]}, "legend": {"title": null, "orient": "none", "legendX": 259, "legendY": 22, "encode": {"symbols": {"update": {"stroke": {"value": "#8a8a8a"}, "strokeWidth": {"value": 1}}}}}}}},
   {"transform": [{"filter": "datum.g == 'cancer'"}], "mark": {"type": "line", "color": "#555555", "strokeWidth": 0.7, "opacity": 0.85}, "encoding": {"y": {"field": "y", "type": "quantitative"}}},
   {"transform": [{"filter": "datum.g == 'control'"}], "mark": {"type": "area", "opacity": 0.5}, "encoding": {"y": {"field": "y", "type": "quantitative", "stack": null}, "color": {"field": "g", "type": "nominal"}}},
   {"transform": [{"filter": "datum.g == 'control'"}], "mark": {"type": "line", "color": "#555555", "strokeWidth": 0.7, "opacity": 0.85}, "encoding": {"y": {"field": "y", "type": "quantitative"}}},
   {"data": {"values": [{}]}, "mark": {"type": "rule", "color": "#333333", "strokeDash": [2, 2], "strokeWidth": 1}, "encoding": {"x": {"datum": 1.47}}},
   {"data": {"values": [{"label": "pval = 0.03881"}]}, "mark": {"type": "text", "align": "right", "fontSize": 13, "color": "#000000"}, "encoding": {"x": {"datum": 3.92}, "y": {"datum": 0.5375}, "text": {"field": "label"}}}
  ]},
 {"width": 339, "height": 285, "data": {"name": "p33"},
  "encoding": {"x": {"field": "x", "type": "quantitative", "scale": {"domain": [-0.549, 4.35], "nice": false, "zero": false}, "axis": {"values": [0, 1, 2, 3, 4], "format": "d", "title": "CK EXP (log2(ck_avg + 0.01))"}}},
  "layer": [
   {"transform": [{"filter": "datum.g == 'cancer'"}], "mark": {"type": "area", "opacity": 0.5}, "encoding": {"y": {"field": "y", "type": "quantitative", "stack": null, "scale": {"domain": [-0.0223, 0.4936], "nice": false, "zero": false}, "axis": {"values": [0, 0.1, 0.2, 0.3, 0.4], "format": ".1f", "title": null}}, "color": {"field": "g", "type": "nominal", "scale": {"domain": ["cancer", "control"], "range": ["#F38197", "#6FADD9"]}, "legend": null}}},
   {"transform": [{"filter": "datum.g == 'cancer'"}], "mark": {"type": "line", "color": "#555555", "strokeWidth": 0.7, "opacity": 0.85}, "encoding": {"y": {"field": "y", "type": "quantitative"}}},
   {"transform": [{"filter": "datum.g == 'control'"}], "mark": {"type": "area", "opacity": 0.5}, "encoding": {"y": {"field": "y", "type": "quantitative", "stack": null}, "color": {"field": "g", "type": "nominal", "legend": null}}},
   {"transform": [{"filter": "datum.g == 'control'"}], "mark": {"type": "line", "color": "#555555", "strokeWidth": 0.7, "opacity": 0.85}, "encoding": {"y": {"field": "y", "type": "quantitative"}}},
   {"data": {"values": [{}]}, "mark": {"type": "rule", "color": "#333333", "strokeDash": [2, 2], "strokeWidth": 1}, "encoding": {"x": {"datum": 1.62}}},
   {"data": {"values": [{"label": "pval = 1.305e-06"}]}, "mark": {"type": "text", "align": "right", "fontSize": 13, "color": "#000000"}, "encoding": {"x": {"datum": 4.22}, "y": {"datum": 0.4755}, "text": {"field": "label"}}}
  ]},
 {"width": 338, "height": 285, "data": {"name": "p34"},
  "encoding": {"x": {"field": "x", "type": "quantitative", "scale": {"domain": [-7.13, 7.35], "nice": false, "zero": false}, "axis": {"values": [-4, 0, 4], "labelExpr": "replace(format(datum.value, 'd'), '\u2212', '-')", "title": "VIM EXP (log2(vim_avg + 0.01))"}}},
  "layer": [
   {"transform": [{"filter": "datum.g == 'debris'"}], "mark": {"type": "area", "opacity": 0.7}, "encoding": {"y": {"field": "y", "type": "quantitative", "stack": null, "scale": {"domain": [-3.0, 54.1], "nice": false, "zero": false}, "axis": {"values": [0, 10, 20, 30, 40, 50], "format": "d", "title": null}}, "color": {"field": "g", "type": "nominal", "scale": {"domain": ["debris", "mCTC"], "range": ["#F48386", "#5F97BF"]}, "legend": {"title": null, "orient": "none", "legendX": 54, "legendY": 23, "encode": {"symbols": {"update": {"stroke": {"value": "#8a8a8a"}, "strokeWidth": {"value": 1}}}}}}}},
   {"transform": [{"filter": "datum.g == 'debris'"}], "mark": {"type": "line", "color": "#555555", "strokeWidth": 0.7, "opacity": 0.85}, "encoding": {"y": {"field": "y", "type": "quantitative"}}},
   {"transform": [{"filter": "datum.g == 'mCTC'"}], "mark": {"type": "area", "opacity": 0.7}, "encoding": {"y": {"field": "y", "type": "quantitative", "stack": null}, "color": {"field": "g", "type": "nominal"}}},
   {"transform": [{"filter": "datum.g == 'mCTC'"}], "mark": {"type": "line", "color": "#555555", "strokeWidth": 0.7, "opacity": 0.85}, "encoding": {"y": {"field": "y", "type": "quantitative"}}}
  ]}
]
}
